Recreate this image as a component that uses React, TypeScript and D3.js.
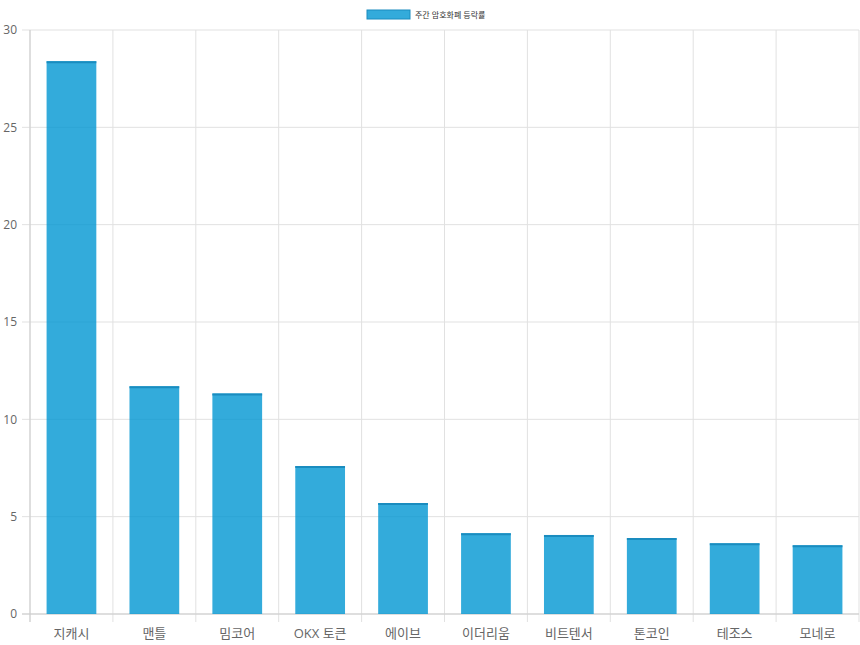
import React from "react";
import * as d3 from "d3";

const categories = ["지캐시", "맨틀", "밈코어", "OKX 토큰", "에이브", "이더리움", "비트텐서", "톤코인", "테조스", "모네로"];
const values = [28.4, 11.7, 11.33, 7.6, 5.7, 4.15, 4.06, 3.9, 3.63, 3.53];
const yTicks = [0, 5, 10, 15, 20, 25, 30];
const seriesName = "주간 암호화폐 등락률";

const W = 860, H = 645;
const M = { left: 30, right: 859, top: 30, bottom: 614 };
const FONT = "'Open Sans', 'Noto Sans CJK KR', sans-serif";

export default function App() {
  const x = d3.scaleBand<string>().domain(categories).range([M.left, M.right]);
  const y = d3.scaleLinear().domain([0, 30]).range([M.bottom, M.top]);
  const bw = x.bandwidth() * 0.6;
  return (
    <svg width={W} height={H} style={{ position: "absolute", left: 0, top: 0, background: "#fff" }}>
      {yTicks.map((t) => (
        <g key={t}>
          <line x1={M.left - 8} x2={M.right} y1={y(t)} y2={y(t)} stroke="#e1e1e1" strokeWidth={1} />
          <text x={17} y={y(t)} dy="0.35em" textAnchor="end" fontFamily={FONT} fontSize={12} fill="#666">{t}</text>
        </g>
      ))}
      {categories.map((c, i) => (
        <line key={c} x1={x(c)!} x2={x(c)!} y1={M.top} y2={M.bottom + 8} stroke="#e1e1e1" />
      ))}
      <line x1={M.right} x2={M.right} y1={M.top} y2={M.bottom + 8} stroke="#e1e1e1" />
      <line x1={M.left} x2={M.left} y1={M.top} y2={M.bottom + 8} stroke="#ccc" />
      <line x1={M.left - 8} x2={M.right} y1={M.bottom} y2={M.bottom} stroke="#ccc" />
      {categories.map((c, i) => {
        const cx = x(c)! + x.bandwidth() / 2;
        return (
          <g key={c}>
            <rect x={cx - bw / 2} y={y(values[i])} width={bw} height={y(0) - y(values[i])} fill="rgba(0,150,210,0.8)" />
            <line x1={cx - bw / 2} x2={cx + bw / 2} y1={y(values[i]) + 1} y2={y(values[i]) + 1} stroke="#1a8cbf" strokeWidth={2} />
            <text x={cx} y={638} textAnchor="middle" fontFamily={FONT} fontSize={13} fill="#666">{c}</text>
          </g>
        );
      })}
      <rect x={367} y={10} width={43} height={9} fill="rgba(0,150,210,0.8)" stroke="#1a8cbf" strokeWidth={1} />
      <text x={415} y={15} dy="0.35em" fontFamily={FONT} fontSize={8} fill="#333">{seriesName}</text>
    </svg>
  );
}
